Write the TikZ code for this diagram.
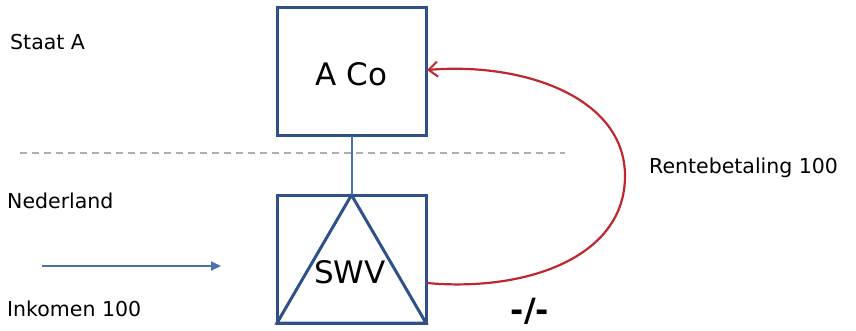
\documentclass[tikz,border=0pt]{standalone}
\usepackage{fontspec}
\setmainfont{DejaVu Sans}
\usetikzlibrary{arrows.meta}
\definecolor{boxblue}{HTML}{2F5189}
\definecolor{linkblue}{HTML}{4A72B0}
\definecolor{arcred}{HTML}{C0272D}
\definecolor{dashgray}{HTML}{AFAFAF}
\begin{document}
\begin{tikzpicture}[x=1pt,y=-1pt,
  entity/.style={draw=boxblue,line width=3pt,minimum width=149pt,minimum height=128pt,outer sep=0pt,inner sep=0pt},
  lbl/.style={anchor=base west,inner sep=0pt,font=\fontsize{20.5}{24}\selectfont},
  big/.style={inner sep=0pt,font=\fontsize{31}{36}\selectfont}]
\useasboundingbox (0,0) rectangle (856,330);
% division line
\coordinate (dl) at (20,153);
\coordinate (dr) at (565,153);
\draw[dashgray,line width=1.6pt,dash pattern=on 7pt off 5pt] (dl) -- (dr);
% boxes
\node[entity] (aco) at (351.5,71.5) {};
\node[big] (acot) at (351.5,74) {A Co};
\node[entity] (swv) at (351.5,259) {};
\draw[boxblue,line width=3pt,line join=miter] (swv.north) -- (swv.south west) -- (swv.south east) -- cycle;
\node[big] (swvt) at (350,272) {SWV};
% connector
\draw[linkblue,line width=2pt] (aco.south) -- (swv.north);
% labels
\node[lbl] (staat) at (10,49) {Staat A};
\node[lbl] (ned) at (7,208) {Nederland};
\node[lbl] (ink) at (7,316) {Inkomen 100};
\node[lbl] (rente) at (649,173) {Rentebetaling 100};
\node[inner sep=0pt,font=\bfseries\fontsize{32}{36}\selectfont] (neg) at (530,311) {-/-};
% income arrow
\coordinate (inA) at (42,266);
\coordinate (inB) at (221,266);
\draw[linkblue,line width=2pt,-{Triangle[length=10pt,width=9pt]}] (inA) -- (inB);
% interest payment arc
\coordinate (ps) at (427,283);
\coordinate (pe) at (427,70);
\draw[arcred,line width=2.2pt,-{Straight Barb[length=9pt,width=15pt,line width=2pt]}]
  (ps) .. controls (525,292) and (625,258) .. (625,176)
       .. controls (625,98) and (525,62) .. (pe);
\end{tikzpicture}
\end{document}
